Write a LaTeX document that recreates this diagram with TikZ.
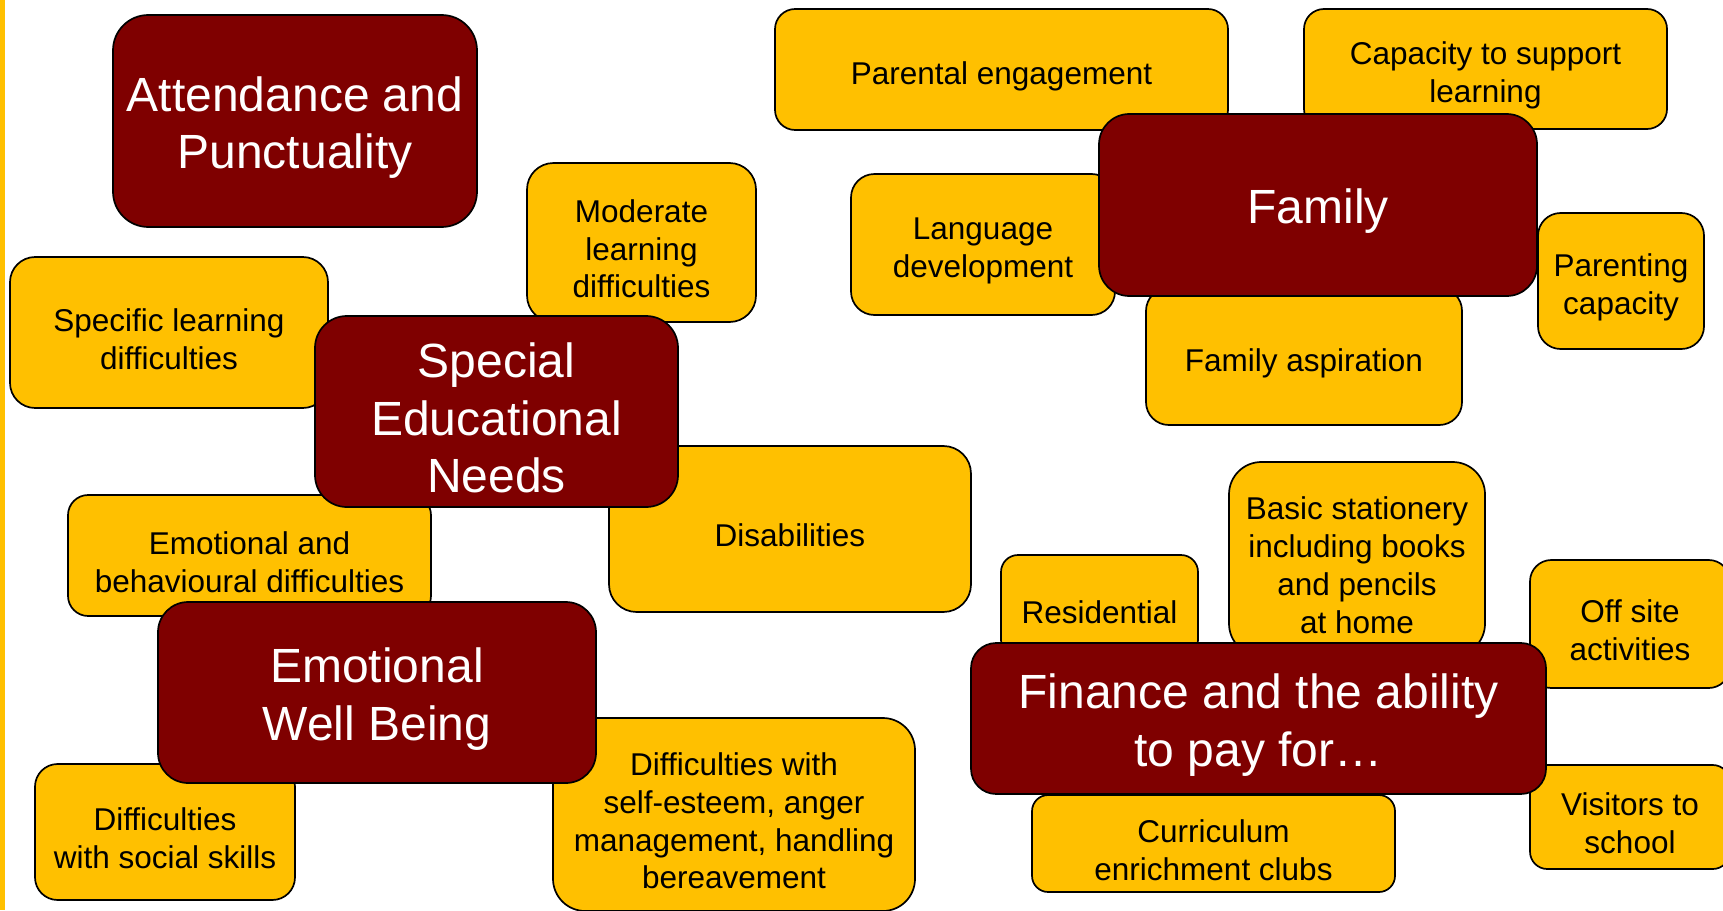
\documentclass[tikz,border=0pt]{standalone}
\usepackage{fontspec}
\setmainfont{Liberation Sans}
\definecolor{boxyellow}{HTML}{FFC000}
\definecolor{boxred}{HTML}{7F0000}
\newcommand\bx[8]{%
  \pgfmathsetmacro\bxcx{(#2+#4)/2}%
  \pgfmathsetmacro\bxcy{(#3+#5)/2}%
  \pgfmathsetmacro\bxw{(#4-#2)*0.5}%
  \pgfmathsetmacro\bxh{(#5-#3)*0.5}%
  \pgfmathsetmacro\bxr{min(\bxw,\bxh)*0.1667}%
  \node[#6, minimum width=\bxw pt, minimum height=\bxh pt, rounded corners=\bxr pt] (#1) at (\bxcx,\bxcy) {};
  \node[#7] (#1-text) at ([yshift=\ifx#7ytext -2.2pt\else -3.2pt\fi]#1.center) {#8};}
\tikzset{
  ybox/.style={draw=black, line width=0.85pt, fill=boxyellow, inner sep=0pt, outer sep=0pt},
  rbox/.style={draw=black, line width=0.85pt, fill=boxred, inner sep=0pt, outer sep=0pt},
  ytext/.style={text=black, inner sep=0pt, align=center, font=\fontsize{15.75}{18.9}\selectfont},
  rtext/.style={text=white, inner sep=0pt, align=center, font=\fontsize{24}{28.8}\selectfont}
}
\begin{document}
\begin{tikzpicture}[x=0.5pt, y=-0.5pt]
\useasboundingbox (0,0) rectangle (1723,910);
\begin{scope}
\clip (0,0) rectangle (1723,910);
\fill[white] (0,0) rectangle (1723,910);
\fill[boxyellow] (0,0) rectangle (5,910);
% yellow boxes
\bx{parental}{775}{9}{1228}{130}{ybox}{ytext}{Parental engagement}
\bx{capacity}{1304}{9}{1667}{129}{ybox}{ytext}{Capacity to support\\learning}
\bx{language}{851}{174}{1115}{315}{ybox}{ytext}{Language\\development}
\bx{parenting}{1538}{213}{1704}{349}{ybox}{ytext}{Parenting\\capacity}
\bx{aspiration}{1146}{288}{1462}{425}{ybox}{ytext}{Family aspiration}
\bx{moderate}{527}{163}{756}{322}{ybox}{ytext}{Moderate\\learning\\difficulties}
\bx{specific}{10}{257}{328}{408}{ybox}{ytext}{Specific learning\\difficulties}
\bx{disab}{609}{446}{971}{612}{ybox}{ytext}{Disabilities}
\bx{emobeh}{68}{495}{431}{616}{ybox}{ytext}{Emotional and\\behavioural difficulties}
\bx{social}{35}{764}{295}{900}{ybox}{ytext}{Difficulties\\with social skills}
\bx{selfest}{553}{718}{915}{911}{ybox}{ytext}{Difficulties with\\self-esteem, anger\\management, handling\\bereavement}
\bx{resid}{1001}{555}{1198}{657}{ybox}{ytext}{Residential}
\bx{basic}{1229}{462}{1485}{656}{ybox}{ytext}{Basic stationery\\including books\\and pencils\\at home}
\bx{offsite}{1530}{560}{1730}{688}{ybox}{ytext}{Off site\\activities}
\bx{curric}{1032}{795}{1395}{892}{ybox}{ytext}{Curriculum\\enrichment clubs}
\bx{visitors}{1530}{765}{1730}{869}{ybox}{ytext}{Visitors to\\school}
% red boxes
\bx{attend}{113}{15}{477}{227}{rbox}{rtext}{Attendance and\\Punctuality}
\bx{family}{1099}{114}{1537}{296}{rbox}{rtext}{Family}
\bx{sen}{315}{316}{678}{507}{rbox}{rtext}{Special\\Educational\\Needs}
\bx{ewb}{158}{602}{596}{783}{rbox}{rtext}{Emotional\\Well Being}
\bx{finance}{971}{643}{1546}{794}{rbox}{rtext}{Finance and the ability\\to pay for…}
\end{scope}
\end{tikzpicture}
\end{document}
